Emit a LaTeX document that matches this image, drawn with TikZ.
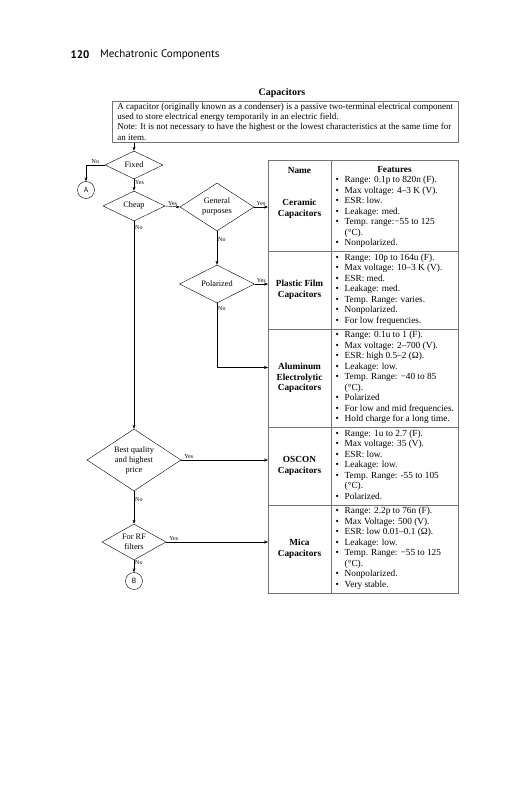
\documentclass[tikz,border=0pt]{standalone}
\usepackage{fontspec}
\setmainfont{Liberation Serif}
\newfontfamily\headfont{PT Sans}
\usetikzlibrary{arrows.meta,shapes.geometric}
\newcommand{\bu}{\makebox[9pt][l]{\textbullet}}
\newcommand{\hg}{\hspace*{9pt}}

\begin{document}
\begin{tikzpicture}[x=1pt,y=-1pt,>={Stealth[length=4pt,width=3pt]},
  dec/.style={draw,diamond,inner sep=0pt,align=center,font=\fontsize{8.3}{10}\selectfont},
  conn/.style={draw,circle,minimum size=17pt,inner sep=0pt,font=\headfont\fontsize{7.5}{8}\selectfont},
  lbl/.style={inner sep=1pt,font=\fontsize{6}{7}\selectfont},
  capname/.style={align=center,font=\bfseries\fontsize{9.3}{10.5}\selectfont},
  feat/.style={anchor=north west,align=left,inner xsep=4.5pt,inner ysep=2pt,font=\fontsize{9.3}{10.5}\selectfont},
  grid/.style={draw=black!55,line width=0.5pt}]
\useasboundingbox (0,0) rectangle (531,800);

\node[font=\headfont\bfseries\fontsize{11}{13}\selectfont] (pgno) at (80,55) {120};
\node[anchor=west,inner sep=0pt,font=\headfont\fontsize{11}{13}\selectfont] (runhead) at (100,55) {Mechatronic Components};

\node[font=\bfseries\fontsize{10}{12}\selectfont] (title) at (282,93) {Capacitors};
\node[draw=black!55,line width=0.5pt,anchor=north west,minimum width=346pt,minimum height=41pt,inner sep=1pt,align=left,font=\fontsize{9}{10.3}\selectfont] (intro) at (112,101)
{A capacitor (originally known as a condenser) is a passive two-terminal electrical component\\
used to store electrical energy temporarily in an electric field.\\
Note: It is not necessary to have the highest or the lowest characteristics at the same time for\\
an item.};

\node[dec,shape aspect=2.07,minimum width=58pt,minimum height=28pt] (fixed) at (134,165) {Fixed};
\node[dec,shape aspect=2.07,minimum width=62pt,minimum height=30pt] (cheap) at (134,206) {Cheap};
\node[dec,shape aspect=1.54,minimum width=74pt,minimum height=48pt] (general) at (217,207) {General\\purposes};
\node[dec,shape aspect=1.97,minimum width=75pt,minimum height=38pt] (polar) at (217,284) {Polarized};
\node[dec,shape aspect=1.52,minimum width=94pt,minimum height=62pt] (best) at (134,460) {Best quality\\and highest\\price};
\node[dec,shape aspect=1.78,minimum width=64pt,minimum height=36pt] (rf) at (134,542) {For RF\\filters};
\node[conn] (A) at (86,190) {A};
\node[conn] (B) at (134,581) {B};

\coordinate (tl) at (268,160);
\coordinate (br) at (458,593);
\draw[grid] (tl) rectangle (br);
\draw[grid] (331,160) -- (331,593);
\foreach \y in {251.5,329,427.5,505}
  \draw[grid] (268,\y) -- (458,\y);

\node[capname] (hname) at (299.5,170) {Name};
\node[capname] (hfeat) at (394.5,170) {Features};

\node[capname] (ceramic) at (299.5,209) {Ceramic\\Capacitors};
\node[capname] (plastic) at (299.5,290) {Plastic Film\\Capacitors};
\node[capname] (alu) at (299.5,378) {Aluminum\\Electrolytic\\Capacitors};
\node[capname] (oscon) at (299.5,466) {OSCON\\Capacitors};
\node[capname] (mica) at (299.5,549) {Mica\\Capacitors};

\node[feat] (fceramic) at (331,174) {\bu Range: 0.1p to 820n (F).\\ \bu Max voltage: 4–3 K (V).\\ \bu ESR: low.\\ \bu Leakage: med.\\ \bu Temp. range:−55 to 125\\ \hg (°C).\\ \bu Nonpolarized.};
\node[feat] (fplastic) at (331,251.5) {\bu Range: 10p to 164u (F).\\ \bu Max voltage: 10–3 K (V).\\ \bu ESR: med.\\ \bu Leakage: med.\\ \bu Temp. Range: varies.\\ \bu Nonpolarized.\\ \bu For low frequencies.};
\node[feat] (falu) at (331,329) {\bu Range: 0.1u to 1 (F).\\ \bu Max voltage: 2–700 (V).\\ \bu ESR: high 0.5–2 (Ω).\\ \bu Leakage: low.\\ \bu Temp. Range: −40 to 85\\ \hg (°C).\\ \bu Polarized\\ \bu For low and mid frequencies.\\ \bu Hold charge for a long time.};
\node[feat] (foscon) at (331,427.5) {\bu Range: 1u to 2.7 (F).\\ \bu Max voltage: 35 (V).\\ \bu ESR: low.\\ \bu Leakage: low.\\ \bu Temp. Range: -55 to 105\\ \hg (°C).\\ \bu Polarized.};
\node[feat] (fmica) at (331,505) {\bu Range: 2.2p to 76n (F).\\ \bu Max Voltage: 500 (V).\\ \bu ESR: low 0.01–0.1 (Ω).\\ \bu Leakage: low.\\ \bu Temp. Range: −55 to 125\\ \hg (°C).\\ \bu Nonpolarized.\\ \bu Very stable.};

\draw[->] (intro.south -| fixed.north) -- (fixed.north);
\draw[->] (fixed.west) -| (A.north) node[lbl,pos=0.25,above]{No};
\draw[->] (fixed.south) -- (cheap.north) node[lbl,pos=0.3,right]{Yes};
\draw[->] (cheap.east) -- (general.west) node[lbl,midway,above]{Yes};
\draw[->] (general.east) -- (general.east -| tl) node[lbl,midway,above]{Yes};
\draw[->] (general.south) -- (polar.north) node[lbl,pos=0.25,right]{No};
\draw[->] (polar.east) -- (polar.east -| tl) node[lbl,midway,above]{Yes};
\draw[->] (polar.south) |- (tl |- 0,367.5) node[lbl,pos=0.04,right]{No};
\draw[->] (cheap.south) -- (best.north) node[lbl,pos=0.03,right]{No};
\draw[->] (best.east) -- (best.east -| tl) node[lbl,pos=0,anchor=south west,xshift=2pt]{Yes};
\draw[->] (best.south) -- (rf.north) node[lbl,pos=0.25,right]{No};
\draw[->] (rf.east) -- (rf.east -| tl) node[lbl,pos=0,anchor=south west,xshift=2pt]{Yes};
\draw[->] (rf.south) -- (B.north) node[lbl,pos=0.2,right]{No};
\end{tikzpicture}
\end{document}
